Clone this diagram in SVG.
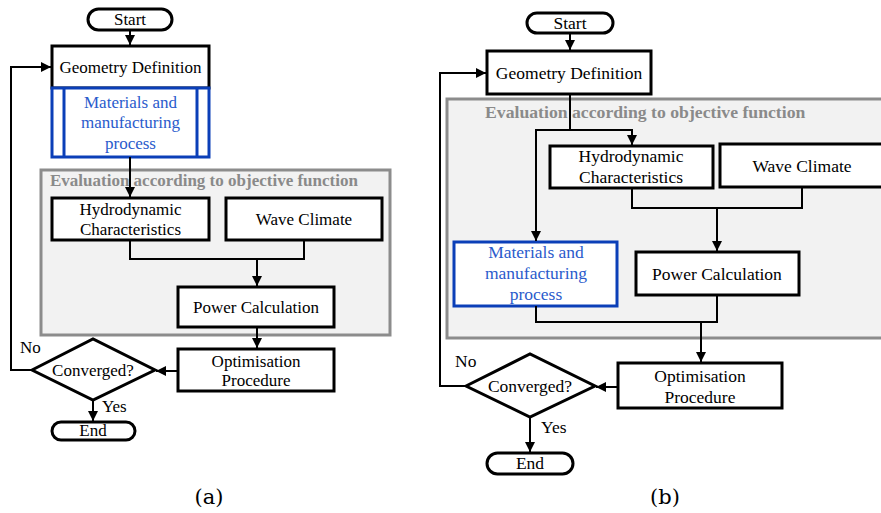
<svg xmlns="http://www.w3.org/2000/svg" width="881" height="513" viewBox="0 0 881 513">
<defs>
<marker id="arr" markerUnits="userSpaceOnUse" markerWidth="10" markerHeight="10" refX="10" refY="5" orient="auto" viewBox="0 0 10 10">
<path d="M0,0 L10,5 L0,10 z" fill="#000"/>
</marker>
<style>
.box{fill:#fff;stroke:#000;stroke-width:3}
.blue{fill:#fff;stroke:#0b3fb8;stroke-width:3}
.eval{fill:#f2f2f2;stroke:#8c8c8c;stroke-width:3}
.con{fill:none;stroke:#000;stroke-width:2}
.arr{fill:none;stroke:#000;stroke-width:2;marker-end:url(#arr)}
text{font-family:"Liberation Serif","Times New Roman",serif;font-size:17px;fill:#000;text-anchor:middle}
.bt{fill:#2a5bcc}
.lt{text-anchor:start}
.b text{font-size:17.5px}
text.et{font-weight:bold;fill:#8a8a8a;text-anchor:start;font-size:17px}
.b text.et{font-size:17.7px}
text.cap{font-family:"DejaVu Serif","Liberation Serif",serif;font-size:21px}
</style>
</defs>
<rect width="881" height="513" fill="#fff"/>

<!-- Panel (a) -->
<g id="a">
<g id="a-eval"><rect class="eval" x="41" y="170" width="349" height="165"/><text class="et" x="50" y="186">Evaluation according to objective function</text></g>
<g id="a-start"><rect class="box" x="88" y="9" width="84" height="21" rx="10.5"/><text x="130" y="25">Start</text></g>
<g id="a-geom"><rect class="box" x="52" y="46" width="157" height="42"/><text x="130.5" y="73">Geometry Definition</text></g>
<g id="a-mat"><rect class="blue" x="52" y="88" width="157" height="69"/><line x1="64" y1="88" x2="64" y2="157" stroke="#0b3fb8" stroke-width="3"/><line x1="197" y1="88" x2="197" y2="157" stroke="#0b3fb8" stroke-width="3"/>
<text class="bt" x="130.5" y="108">Materials and</text><text class="bt" x="130.5" y="128">manufacturing</text><text class="bt" x="130.5" y="149">process</text></g>
<g id="a-hydro"><rect class="box" x="52" y="198" width="157" height="42"/><text x="130.5" y="215">Hydrodynamic</text><text x="130.5" y="235">Characteristics</text></g>
<g id="a-wave"><rect class="box" x="226" y="198" width="156" height="42"/><text x="304" y="225">Wave Climate</text></g>
<g id="a-power"><rect class="box" x="178" y="287" width="156" height="40"/><text x="256" y="313">Power Calculation</text></g>
<g id="a-opt"><rect class="box" x="178" y="349" width="156" height="42"/><text x="256" y="367">Optimisation</text><text x="256" y="386">Procedure</text></g>
<g id="a-conv"><polygon class="box" points="32,370 93,339 155,370 93,400"/><text x="93" y="376">Converged?</text></g>
<g id="a-end"><rect class="box" x="52" y="422" width="83" height="18" rx="9"/><text x="93" y="436">End</text></g>
<g id="a-connectors">
<path class="arr" d="M130,31 V45"/>
<path class="arr" d="M130,157 V197"/>
<path class="con" d="M130,240 V259 H304 V240"/>
<path class="arr" d="M257,259 V286"/>
<path class="arr" d="M257,327 V348"/>
<path class="arr" d="M178,371 H156"/>
<path class="arr" d="M32,370 H11 V67 H51"/>
<path class="arr" d="M93,400 V421"/>
<text class="lt" x="20" y="353">No</text>
<text class="lt" x="102" y="412">Yes</text>
</g>
<text class="cap" x="209" y="504">(a)</text>
</g>

<!-- Panel (b) -->
<g id="b" class="b">
<g id="b-eval"><rect class="eval" x="447" y="99" width="450" height="239"/><text class="et" x="485" y="118">Evaluation according to objective function</text></g>
<g id="b-start"><rect class="box" x="527" y="13" width="86" height="20" rx="10"/><text x="570" y="29">Start</text></g>
<g id="b-geom"><rect class="box" x="487" y="51" width="164" height="43"/><text x="569" y="79">Geometry Definition</text></g>
<g id="b-hydro"><rect class="box" x="550" y="146" width="163" height="42"/><text x="631" y="162">Hydrodynamic</text><text x="631" y="183">Characteristics</text></g>
<g id="b-wave"><rect class="box" x="720" y="144" width="180" height="43"/><text x="802" y="172">Wave Climate</text></g>
<g id="b-power"><rect class="box" x="636" y="252" width="163" height="43"/><text x="717" y="280">Power Calculation</text></g>
<g id="b-mat"><rect class="blue" x="454" y="242" width="163" height="64"/><text class="bt" x="536" y="258">Materials and</text><text class="bt" x="536" y="279">manufacturing</text><text class="bt" x="536" y="300">process</text></g>
<g id="b-opt"><rect class="box" x="618" y="363" width="164" height="45"/><text x="700" y="382">Optimisation</text><text x="700" y="403">Procedure</text></g>
<g id="b-conv"><polygon class="box" points="466,386 530,354 595,386 530,417"/><text x="530" y="392">Converged?</text></g>
<g id="b-end"><rect class="box" x="487" y="453" width="86" height="21" rx="10.5"/><text x="530" y="469">End</text></g>
<g id="b-connectors">
<path class="arr" d="M570,33 V50"/>
<path class="con" d="M570,94 V130"/>
<path class="arr" d="M570,130 H536 V241"/>
<path class="arr" d="M570,130 H632 V145"/>
<path class="con" d="M632,188 V208 H802 V187"/>
<path class="arr" d="M717,208 V251"/>
<path class="con" d="M536,306 V322 H717 V295"/>
<path class="arr" d="M701,322 V362"/>
<path class="arr" d="M618,387 H596"/>
<path class="arr" d="M466,386 H440 V73 H486"/>
<path class="arr" d="M530,417 V452"/>
<text class="lt" x="455" y="367">No</text>
<text class="lt" x="541" y="433">Yes</text>
</g>
<text class="cap" x="665" y="504">(b)</text>
</g>
</svg>
